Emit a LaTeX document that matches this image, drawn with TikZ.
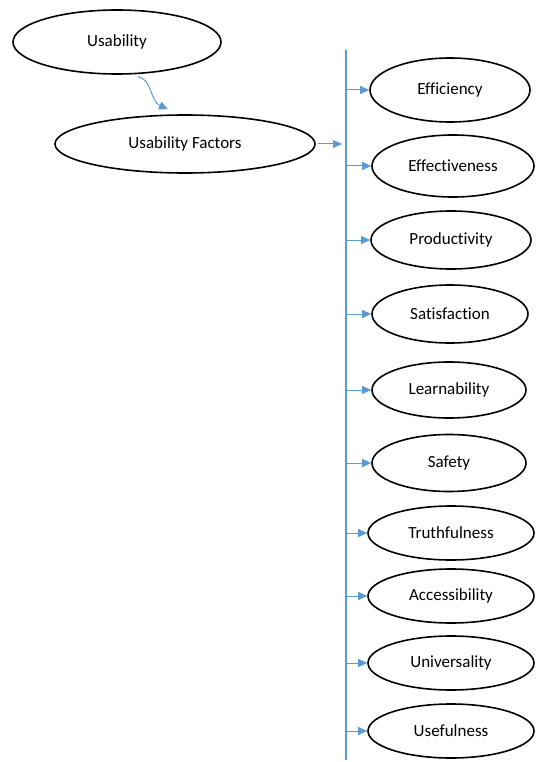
\documentclass[tikz,border=0pt]{standalone}
\usepackage{fontspec}
\setmainfont{Carlito}[Ligatures={NoCommon}]
\usepackage{xcolor}
\usetikzlibrary{shapes.geometric,arrows.meta}
\definecolor{flowblue}{RGB}{91,155,213}

\tikzset{
    factor/.style={draw,ellipse,line width=1.6pt,inner sep=0pt,
        font=\fontsize{17}{20}\selectfont},
    flow/.style={flowblue,line width=1pt,-{Triangle[length=9pt,width=8pt]}},
    trunk/.style={flowblue,line width=1.2pt}
}

\begin{document}
\begin{tikzpicture}[x=1pt,y=1pt]
    \useasboundingbox (0,0) rectangle (536,-762);

    % left side
    \node[factor,minimum width=208pt,minimum height=64pt] (usab) at (117,-42) {Usability};
    \node[factor,minimum width=260pt,minimum height=58pt] (ufac) at (185,-144) {Usability Factors};

    % trunk line
    \coordinate (top) at (346,-50);
    \coordinate (bot) at (346,-760);
    \draw[trunk] (top) -- (bot);

    % factor ellipses
    \node[factor,minimum width=160pt,minimum height=64pt] (effic) at (450,-90) {Efficiency};
    \node[factor,minimum width=162pt,minimum height=62pt] (effect) at (453,-166) {Effectiveness};
    \node[factor,minimum width=160pt,minimum height=58pt] (prod) at (451,-240) {Productivity};
    \node[factor,minimum width=156pt,minimum height=58pt] (satis) at (450,-314) {Satisfaction};
    \node[factor,minimum width=154pt,minimum height=56pt] (learn) at (449,-390) {Learnability};
    \node[factor,minimum width=154pt,minimum height=57pt] (safety) at (449,-463) {Safety};
    \node[factor,minimum width=166pt,minimum height=54pt] (truth) at (451,-533) {Truthfulness};
    \node[factor,minimum width=166pt,minimum height=54pt] (access) at (451,-596) {Accessibility};
    \node[factor,minimum width=166pt,minimum height=54pt] (univ) at (451,-663) {Universality};
    \node[factor,minimum width=166pt,minimum height=54pt] (useful) at (451,-731) {Usefulness};

    % connectors
    \draw[flow] ([xshift=21pt,yshift=-2pt]usab.south) .. controls +(14,-2) and +(-18,8) .. ([xshift=-17pt,yshift=5pt]ufac.north);
    \draw[flow] ([xshift=2pt]ufac.east) -- ([xshift=-4pt]ufac.east -| top);
    \foreach \f in {effic,effect,prod,satis,learn,safety,truth,access,univ,useful}
        \draw[flow] (\f.west -| top) -- (\f.west);
\end{tikzpicture}
\end{document}
